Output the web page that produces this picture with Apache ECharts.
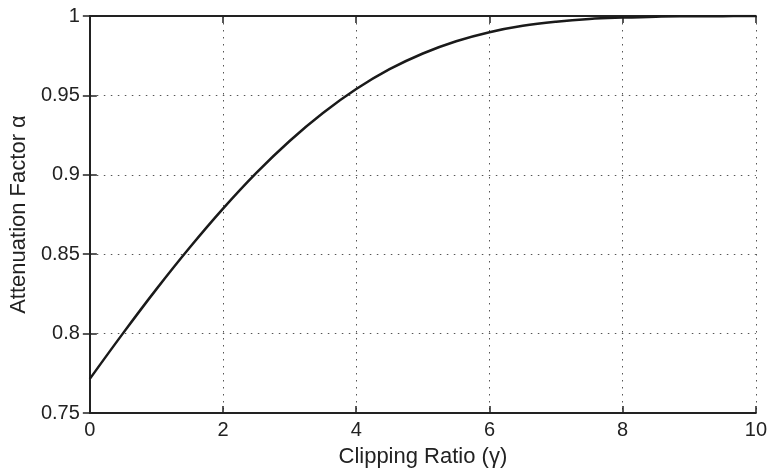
<!DOCTYPE html>
<html>
<head>
<meta charset="utf-8">
<script src="https://cdn.jsdelivr.net/npm/echarts@6/dist/echarts.min.js"></script>
<style>html,body{margin:0;padding:0;background:#fff;}#c{width:770px;height:473px;}</style>
</head>
<body>
<div id="c"></div>
<script>
// Clipping ratio (x) and attenuation factor (y)
var clippingRatio = [0, 0.5, 1, 1.5, 2, 2.5, 3, 3.5, 4, 4.5, 5, 5.5, 6, 6.5, 7, 7.5, 8, 8.5, 9, 9.5, 10];
var attenuation = [0.7715, 0.8003, 0.8280, 0.8542, 0.8787, 0.9012, 0.9213, 0.9389, 0.9540, 0.9665, 0.9764, 0.9841, 0.9898, 0.9938, 0.9964, 0.9981, 0.9990, 0.9996, 0.9998, 0.9999, 1.0000];
var xTicks = [0, 2, 4, 6, 8, 10];
var yTicks = ['0.75', '0.8', '0.85', '0.9', '0.95', '1'];
var xTitle = 'Clipping Ratio (\u03b3)';
var yTitle = 'Attenuation Factor \u03b1';

var font = 'Liberation Sans, Arial, Helvetica, sans-serif';
var axisLine = {show: true, lineStyle: {color: '#222', width: 2}};
var tick = {show: true, inside: true, length: 7, lineStyle: {color: '#222', width: 1.5}};
var grid = {show: true, lineStyle: {color: '#555', width: 1, type: [1.5, 5.5]}};

var points = clippingRatio.map(function (x, i) { return [x, attenuation[i]]; });

var chart = echarts.init(document.getElementById('c'), null, {renderer: 'canvas'});
chart.setOption({
  animation: false,
  backgroundColor: '#fff',
  grid: {left: 89, right: 7, top: 16, bottom: 60, containLabel: false},
  xAxis: [{
    type: 'value', min: xTicks[0], max: xTicks[xTicks.length - 1], interval: xTicks[1] - xTicks[0],
    name: xTitle, nameLocation: 'middle', nameGap: 33,
    nameTextStyle: {fontFamily: font, fontSize: 22, color: '#222'},
    axisLine: axisLine, axisTick: tick, splitLine: grid,
    axisLabel: {fontFamily: font, fontSize: 20, color: '#222', margin: 7}
  }, {
    type: 'value', position: 'top', min: xTicks[0], max: xTicks[xTicks.length - 1], interval: xTicks[1] - xTicks[0],
    axisLine: axisLine, axisTick: tick, splitLine: {show: false}, axisLabel: {show: false}
  }],
  yAxis: [{
    type: 'value', min: +yTicks[0], max: +yTicks[yTicks.length - 1], interval: 0.05,
    name: yTitle, nameLocation: 'middle', nameGap: 58,
    nameTextStyle: {fontFamily: font, fontSize: 22, color: '#222'},
    axisLine: axisLine, axisTick: tick, splitLine: grid,
    axisLabel: {fontFamily: font, fontSize: 20, color: '#222', margin: 10,
      formatter: function (v) { return String(+v.toFixed(2)); }}
  }, {
    type: 'value', position: 'right', min: +yTicks[0], max: +yTicks[yTicks.length - 1], interval: 0.05,
    axisLine: axisLine, axisTick: tick, splitLine: {show: false}, axisLabel: {show: false}
  }],
  series: [{
    type: 'line', xAxisIndex: 0, yAxisIndex: 0,
    data: points, showSymbol: false, smooth: 0.4,
    lineStyle: {color: '#1a1a1a', width: 2.5}
  }]
});
</script>
</body>
</html>
